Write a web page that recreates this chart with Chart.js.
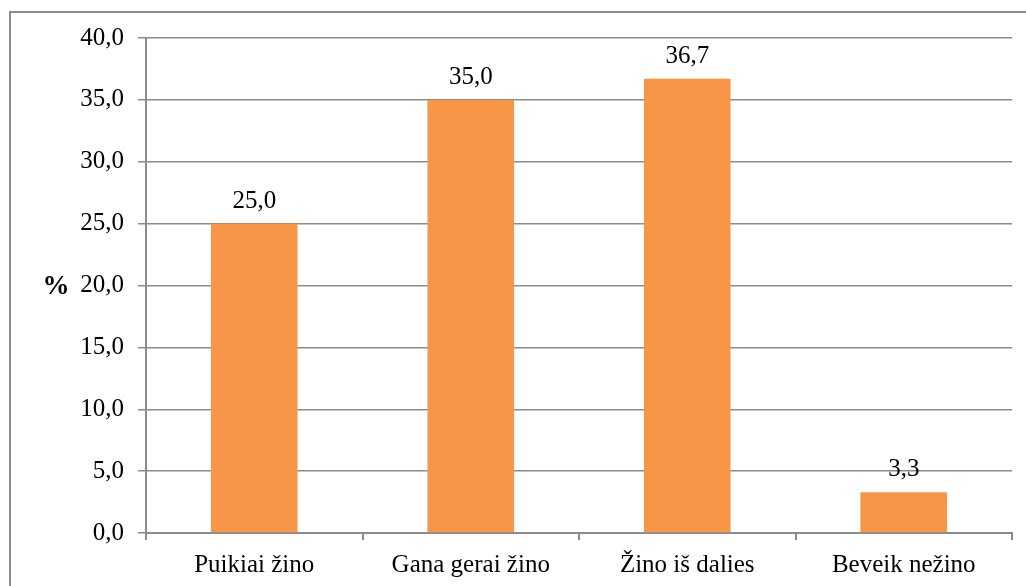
<!DOCTYPE html>
<html>
<head>
<meta charset="utf-8">
<script src="https://cdn.jsdelivr.net/npm/chart.js@4"></script>
<style>
  html, body { margin: 0; padding: 0; background: #fff; }
  #wrap { width: 1026px; height: 586px; position: relative; }
</style>
</head>
<body>
<div id="wrap"><canvas id="c" width="1026" height="586"></canvas></div>
<script>
const categories = ['Puikiai žino', 'Gana gerai žino', 'Žino iš dalies', 'Beveik nežino'];
const percentValues = [25.0, 35.0, 36.7, 3.3];
const yTicks = [0, 5, 10, 15, 20, 25, 30, 35, 40];

const FONT = '"Liberation Serif", "Times New Roman", serif';
const GRID = '#8c8c8c';
const fmt = v => v.toFixed(1).replace('.', ',');

// frame around the chart, "%" axis caption and value labels above bars
const decorations = {
  id: 'decorations',
  beforeDraw(chart) {
    const ctx = chart.ctx;
    ctx.save();
    ctx.strokeStyle = '#8c8c8c';
    ctx.lineWidth = 2;
    ctx.strokeRect(10, 12, 1030, 590);
    ctx.restore();
  },
  afterDatasetsDraw(chart) {
    const ctx = chart.ctx;
    const area = chart.chartArea;
    ctx.save();
    ctx.fillStyle = '#000';
    ctx.font = 'bold 27px ' + FONT;
    ctx.textAlign = 'center';
    ctx.textBaseline = 'middle';
    ctx.fillText('%', 56, (area.top + area.bottom) / 2 + 2);

    ctx.font = '25px ' + FONT;
    ctx.textBaseline = 'alphabetic';
    const meta = chart.getDatasetMeta(0);
    meta.data.forEach((bar, i) => {
      ctx.fillText(fmt(percentValues[i]), bar.x, bar.y - 16);
    });
    ctx.restore();
  }
};

new Chart(document.getElementById('c'), {
  type: 'bar',
  data: {
    labels: categories,
    datasets: [{
      data: percentValues,
      backgroundColor: '#f79646',
      borderWidth: 0,
      categoryPercentage: 1.0,
      barPercentage: 0.4
    }]
  },
  options: {
    responsive: false,
    animation: false,
    layout: { padding: { top: 38, right: 14, left: 0, bottom: 0 } },
    plugins: { legend: { display: false }, tooltip: { enabled: false } },
    scales: {
      x: {
        offset: true,
        grid: {
          display: true,
          drawOnChartArea: false,
          drawTicks: true,
          tickLength: 7,
          color: GRID,
          lineWidth: 2,
          offset: true
        },
        border: { color: GRID, width: 2 },
        ticks: {
          color: '#000',
          font: { family: FONT, size: 25 },
          padding: 10,
          maxRotation: 0
        },
        afterFit(scale) { scale.height = 53; }
      },
      y: {
        min: 0,
        max: 40,
        afterBuildTicks(scale) { scale.ticks = yTicks.map(v => ({ value: v })); },
        grid: {
          color: GRID,
          lineWidth: 1.5,
          drawTicks: true,
          tickLength: 8
        },
        border: { color: GRID, width: 2 },
        ticks: {
          color: '#000',
          font: { family: FONT, size: 25 },
          padding: 14,
          callback: v => fmt(v)
        },
        afterFit(scale) { scale.width = 146; }
      }
    }
  },
  plugins: [decorations]
});
</script>
</body>
</html>
